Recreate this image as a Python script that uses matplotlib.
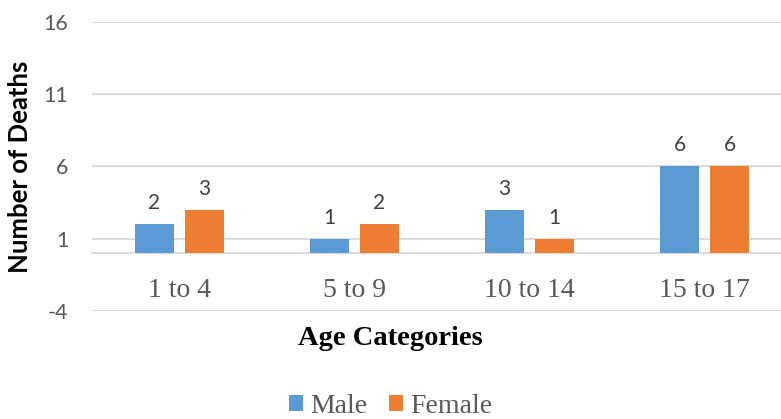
import numpy as np
import matplotlib.pyplot as plt

plt.rcParams["axes.unicode_minus"] = False

# data
categories = ["1 to 4", "5 to 9", "10 to 14", "15 to 17"]
male = [2, 1, 3, 6]
female = [3, 2, 1, 6]
y_ticks = [-4, 1, 6, 11, 16]

blue = "#5B9BD5"
orange = "#ED7D31"
grid_col = "#D9D9D9"

fig = plt.figure(figsize=(7.81, 4.19), dpi=100)
ax = fig.add_axes([92 / 781, 108 / 419, 700 / 781, 289 / 419])

x = np.arange(len(categories))
w = 0.223
off = 0.143
b1 = ax.bar(x - off, male, w, color=blue, label="Male", zorder=3)
b2 = ax.bar(x + off, female, w, color=orange, label="Female", zorder=3)

# data labels
for bars in (b1, b2):
    ax.bar_label(bars, padding=8, fontsize=15, color="#404040", family="Lato")

ax.set_xlim(-0.5, len(categories) - 0.5)
ax.set_ylim(-4, 16)
ax.set_yticks(y_ticks)
ax.yaxis.grid(True, color=grid_col, linewidth=1.3, zorder=0)
ax.set_axisbelow(True)

# horizontal axis at zero
for s in ["top", "right", "left"]:
    ax.spines[s].set_visible(False)
ax.spines["bottom"].set_position(("data", 0))
ax.spines["bottom"].set_color(grid_col)
ax.spines["bottom"].set_linewidth(1.3)

ax.set_xticks(x)
ax.set_xticklabels(categories, family="Liberation Serif", fontsize=20, color="#595959")
ax.tick_params(axis="x", length=0, pad=18)
ax.tick_params(axis="y", length=0, pad=17, labelsize=15.5, labelcolor="#595959")
for lab in ax.get_yticklabels():
    lab.set_family("Lato")

ax.set_ylabel("Number of Deaths", family="Lato", fontweight="bold", fontsize=18.5,
              color="black", va="center")
ax.yaxis.set_label_coords(-72 / 700, 0.5)

fig.text(0.5, 1 - 338 / 419, "Age Categories", ha="center", va="center",
         family="Liberation Serif", fontweight="bold", fontsize=20.5, color="black")

leg = fig.legend(handles=[b1, b2], loc="center", bbox_to_anchor=(0.5, 1 - 406 / 419), ncol=2,
                 frameon=False, prop={"family": "Liberation Serif", "size": 20},
                 handlelength=0.5, handleheight=0.5, handletextpad=0.25, columnspacing=0.8)
for t in leg.get_texts():
    t.set_color("#595959")

fig.savefig("out.png", dpi=100)
